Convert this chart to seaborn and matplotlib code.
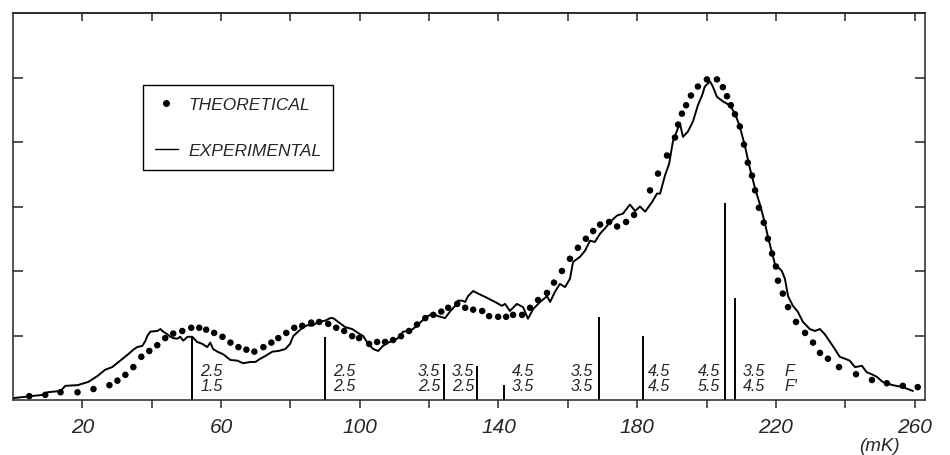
import numpy as np
import pandas as pd
import matplotlib
matplotlib.use('Agg')
import matplotlib.pyplot as plt
from matplotlib.lines import Line2D
import seaborn as sns

# theoretical profile (dots)
theo_x = [4.7, 9.3, 13.7, 18.6, 23.2, 27.8, 30.1, 32.4, 34.7, 37.0, 39.3, 41.6, 43.9, 46.2,
          48.8, 51.4, 53.7, 55.7, 58.0, 60.4, 62.7, 65.0, 67.3, 69.6, 72.2, 74.5, 76.5, 78.8,
          81.1, 83.4, 86.0, 88.3, 90.9, 93.2, 95.5, 97.8, 99.8, 102.7, 105.0, 107.3, 109.6,
          111.9, 114.2, 116.5, 118.9, 121.2, 123.5, 125.5, 128.1, 130.4, 132.7, 135.3, 137.3,
          139.9, 142.2, 144.2, 146.8, 149.1, 151.4, 154.0, 156.0, 158.3, 160.6, 162.9, 165.2,
          167.3, 169.3, 171.9, 174.2, 176.8, 179.1, 183.7, 186.0, 188.6, 190.9, 191.8, 192.9,
          194.1, 195.5, 197.5, 200.1, 203.0, 204.7, 205.9, 207.0, 208.2, 209.6, 210.8, 211.9,
          213.1, 214.0, 215.1, 216.5, 217.7, 218.9, 220.0, 220.6, 222.0, 223.5, 225.8, 228.4,
          230.7, 232.7, 235.0, 238.2, 243.1, 247.7, 252.0, 256.6, 260.9]
theo_y = [0.06, 0.08, 0.12, 0.12, 0.17, 0.23, 0.30, 0.39, 0.51, 0.67, 0.76, 0.85, 0.96, 1.03,
          1.07, 1.12, 1.12, 1.09, 1.04, 0.98, 0.89, 0.82, 0.78, 0.75, 0.82, 0.89, 0.96, 1.04,
          1.12, 1.15, 1.20, 1.21, 1.18, 1.12, 1.07, 0.99, 0.96, 0.87, 0.90, 0.90, 0.93,
          0.99, 1.07, 1.17, 1.27, 1.32, 1.37, 1.43, 1.49, 1.43, 1.40, 1.38, 1.30,
          1.29, 1.29, 1.32, 1.32, 1.43, 1.55, 1.66, 1.82, 2.00, 2.19, 2.36, 2.50,
          2.62, 2.72, 2.76, 2.69, 2.76, 2.87, 3.25, 3.51, 3.79, 4.07, 4.27, 4.44,
          4.57, 4.72, 4.86, 4.97, 4.97, 4.85, 4.71, 4.57, 4.43, 4.24, 3.96, 3.68,
          3.48, 3.25, 2.98, 2.75, 2.50, 2.27, 2.07, 1.85, 1.65, 1.44, 1.21, 1.04,
          0.89, 0.73, 0.64, 0.51, 0.40, 0.31, 0.26, 0.22, 0.20]

# experimental profile (line)
exp_x = [0.1, 3.6, 5.0, 8.8, 9.9, 13.7, 15.1, 18.6, 21.7, 24.3, 26.6, 28.6, 30.9, 33.0, 34.7,
         35.8, 37.3, 38.2, 38.7, 39.6, 41.6, 42.5, 43.3, 44.5, 45.4, 46.2, 47.4, 48.2, 49.1,
         50.3, 51.7, 53.1, 54.6, 56.0, 56.9, 57.7, 58.9, 60.6, 62.7, 64.7, 66.4, 68.4, 69.9,
         71.3, 72.7, 74.8, 76.5, 78.5, 79.9, 80.8, 82.8, 84.8, 86.3, 88.0, 90.0, 91.5, 92.3,
         93.8, 95.8, 97.8, 99.5, 101.0, 102.4, 103.9, 105.3, 106.7, 108.2, 110.8, 112.5,
         114.5, 116.0, 118.0, 119.4, 120.9, 122.6, 124.6, 126.0, 127.5, 128.3, 129.5, 130.4,
         131.2, 132.7, 134.1, 136.1, 139.0, 141.0, 141.9, 143.3, 145.3, 147.1, 148.5, 150.0,
         152.0, 154.0, 154.9, 156.3, 157.7, 159.2, 160.6, 161.5, 163.5, 164.9, 166.4, 167.8,
         169.3, 170.7, 172.2, 174.2, 175.9, 177.9, 179.4, 180.8, 182.3, 184.3, 185.7, 186.6,
         188.0, 189.2, 190.3, 191.5, 192.3, 193.2, 194.6, 196.1, 197.5, 198.7, 199.5, 201.0,
         201.8, 203.0, 204.7, 206.7, 208.2, 209.6, 211.1, 212.5, 214.0, 215.4, 216.8, 217.7,
         218.8, 219.7, 221.7, 222.6, 223.5, 224.9, 226.3, 227.8, 229.8, 231.2, 232.7, 234.1,
         235.6, 237.0, 238.4, 239.9, 241.3, 242.8, 244.8, 246.2, 247.6, 249.1, 250.8, 253.7,
         256.6, 259.5]
exp_y = [0.03, 0.05, 0.06, 0.08, 0.12, 0.14, 0.22, 0.23, 0.28, 0.37, 0.47, 0.51, 0.61, 0.70, 0.78,
         0.82, 0.84, 0.92, 0.99, 1.06, 1.07, 1.10, 1.06, 1.02, 0.98, 0.96, 0.95, 0.98, 0.92,
         0.98, 0.98, 0.90, 0.87, 0.82, 0.89, 0.79, 0.75, 0.71, 0.62, 0.61, 0.57, 0.59, 0.59,
         0.64, 0.68, 0.75, 0.76, 0.79, 0.87, 0.99, 1.09, 1.16, 1.15, 1.21, 1.23, 1.27, 1.27,
         1.21, 1.13, 1.10, 1.04, 0.99, 0.87, 0.79, 0.76, 0.84, 0.89, 0.95, 1.06,
         1.07, 1.13, 1.23, 1.29, 1.34, 1.30, 1.27, 1.37, 1.46, 1.54, 1.54, 1.52,
         1.61, 1.69, 1.65, 1.60, 1.52, 1.46, 1.49, 1.38, 1.49, 1.44, 1.26, 1.41,
         1.52, 1.61, 1.52, 1.68, 1.80, 1.75, 1.88, 2.14, 2.22, 2.31, 2.47, 2.45,
         2.58, 2.66, 2.76, 2.86, 2.89, 3.03, 2.93, 3.00, 2.92, 3.07, 3.20, 3.20,
         3.48, 3.66, 4.01, 4.18, 4.29, 4.08, 4.16, 4.32, 4.57, 4.72, 4.86, 4.94,
         4.86, 4.70, 4.63, 4.57, 4.44, 4.24, 3.93, 3.59, 3.28, 3.03, 2.75, 2.53,
         2.30, 2.11, 2.00, 1.88, 1.61, 1.46, 1.37, 1.21, 1.10, 1.07, 1.10, 1.02,
         0.90, 0.79, 0.67, 0.64, 0.61, 0.51, 0.53, 0.43, 0.40, 0.36, 0.28, 0.23,
         0.20, 0.14]

# hyperfine components: position and relative strength
line_pos = [51.7, 90.0, 124.4, 133.8, 141.7, 169.0, 181.7, 205.3, 208.2]
line_h = [1.0, 0.97, 0.56, 0.53, 0.23, 1.29, 1.00, 3.05, 1.58]

# F / F' labels: (x, upper, lower, alignment)
lab_x = [54.0, 92.3, 123.2, 126.6, 143.9, 167.3, 183.1, 203.9, 210.5, 222.6]
lab_top = ['2.5', '2.5', '3.5', '3.5', '4.5', '3.5', '4.5', '4.5', '3.5', 'F']
lab_bot = ['1.5', '2.5', '2.5', '2.5', '3.5', '3.5', '4.5', '5.5', '4.5', "F'"]
lab_ha = ['left', 'left', 'right', 'left', 'left', 'right', 'left', 'right', 'left', 'left']

xticks = list(range(20, 261, 20))
xlabels = [str(t) if t % 40 == 20 else '' for t in xticks]

sns.set_style('ticks')
plt.rcParams['font.family'] = ['Liberation Sans', 'DejaVu Sans']

fig = plt.figure(figsize=(9.5, 4.56), dpi=100)
ax = fig.add_axes([0.0137, 0.1206, 0.96, 0.8487])

df_exp = pd.DataFrame({'x': exp_x, 'y': exp_y})
df_theo = pd.DataFrame({'x': theo_x, 'y': theo_y})
sns.lineplot(data=df_exp, x='x', y='y', color='black', lw=1.4, estimator=None, sort=False, ax=ax)
sns.scatterplot(data=df_theo, x='x', y='y', color='black', s=22, edgecolor='none', ax=ax)
ax.vlines(line_pos, 0, line_h, color='black', lw=1.4)

for x, t, b, ha in zip(lab_x, lab_top, lab_bot, lab_ha):
    ax.text(x, 0.45, t, ha=ha, va='center', fontsize=11.5, fontstyle='italic')
    ax.text(x, 0.22, b, ha=ha, va='center', fontsize=11.5, fontstyle='italic')

ax.set_xlim(0, 263)
ax.set_ylim(0, 6)
ax.set_xticks(xticks)
ax.set_xticklabels(xlabels, fontsize=15, fontstyle='italic')
ax.set_yticks([1, 2, 3, 4, 5])
ax.set_yticklabels([])
ax.tick_params(axis='x', direction='out', length=6, width=1.1, pad=6)
ax.tick_params(axis='y', direction='in', length=7, width=1.1, left=True, right=True)
top = ax.secondary_xaxis('top')
top.set_xticks(xticks)
top.set_xticklabels([])
top.tick_params(direction='in', length=6, width=1.1)
for s in ax.spines.values():
    s.set_visible(True)
    s.set_linewidth(1.1)
top.spines['top'].set_linewidth(1.1)
ax.set_xlabel('')
ax.set_ylabel('')

ax.text(250, -0.70, '(mK)', ha='center', va='center', fontsize=13.5, fontstyle='italic')

handles = [Line2D([], [], marker='o', ls='none', color='black', markersize=4),
           Line2D([], [], color='black', lw=1.0)]
leg = ax.legend(handles, ['THEORETICAL', 'EXPERIMENTAL'], loc='upper left',
                bbox_to_anchor=(0.1425, 0.814), borderaxespad=0, fancybox=False,
                edgecolor='black', framealpha=1, prop={'size': 12.5, 'style': 'italic'},
                handlelength=1.3, labelspacing=1.75, borderpad=0.7, handletextpad=0.6)
leg.get_frame().set_linewidth(1.0)

fig.savefig('out.png', dpi=100)
